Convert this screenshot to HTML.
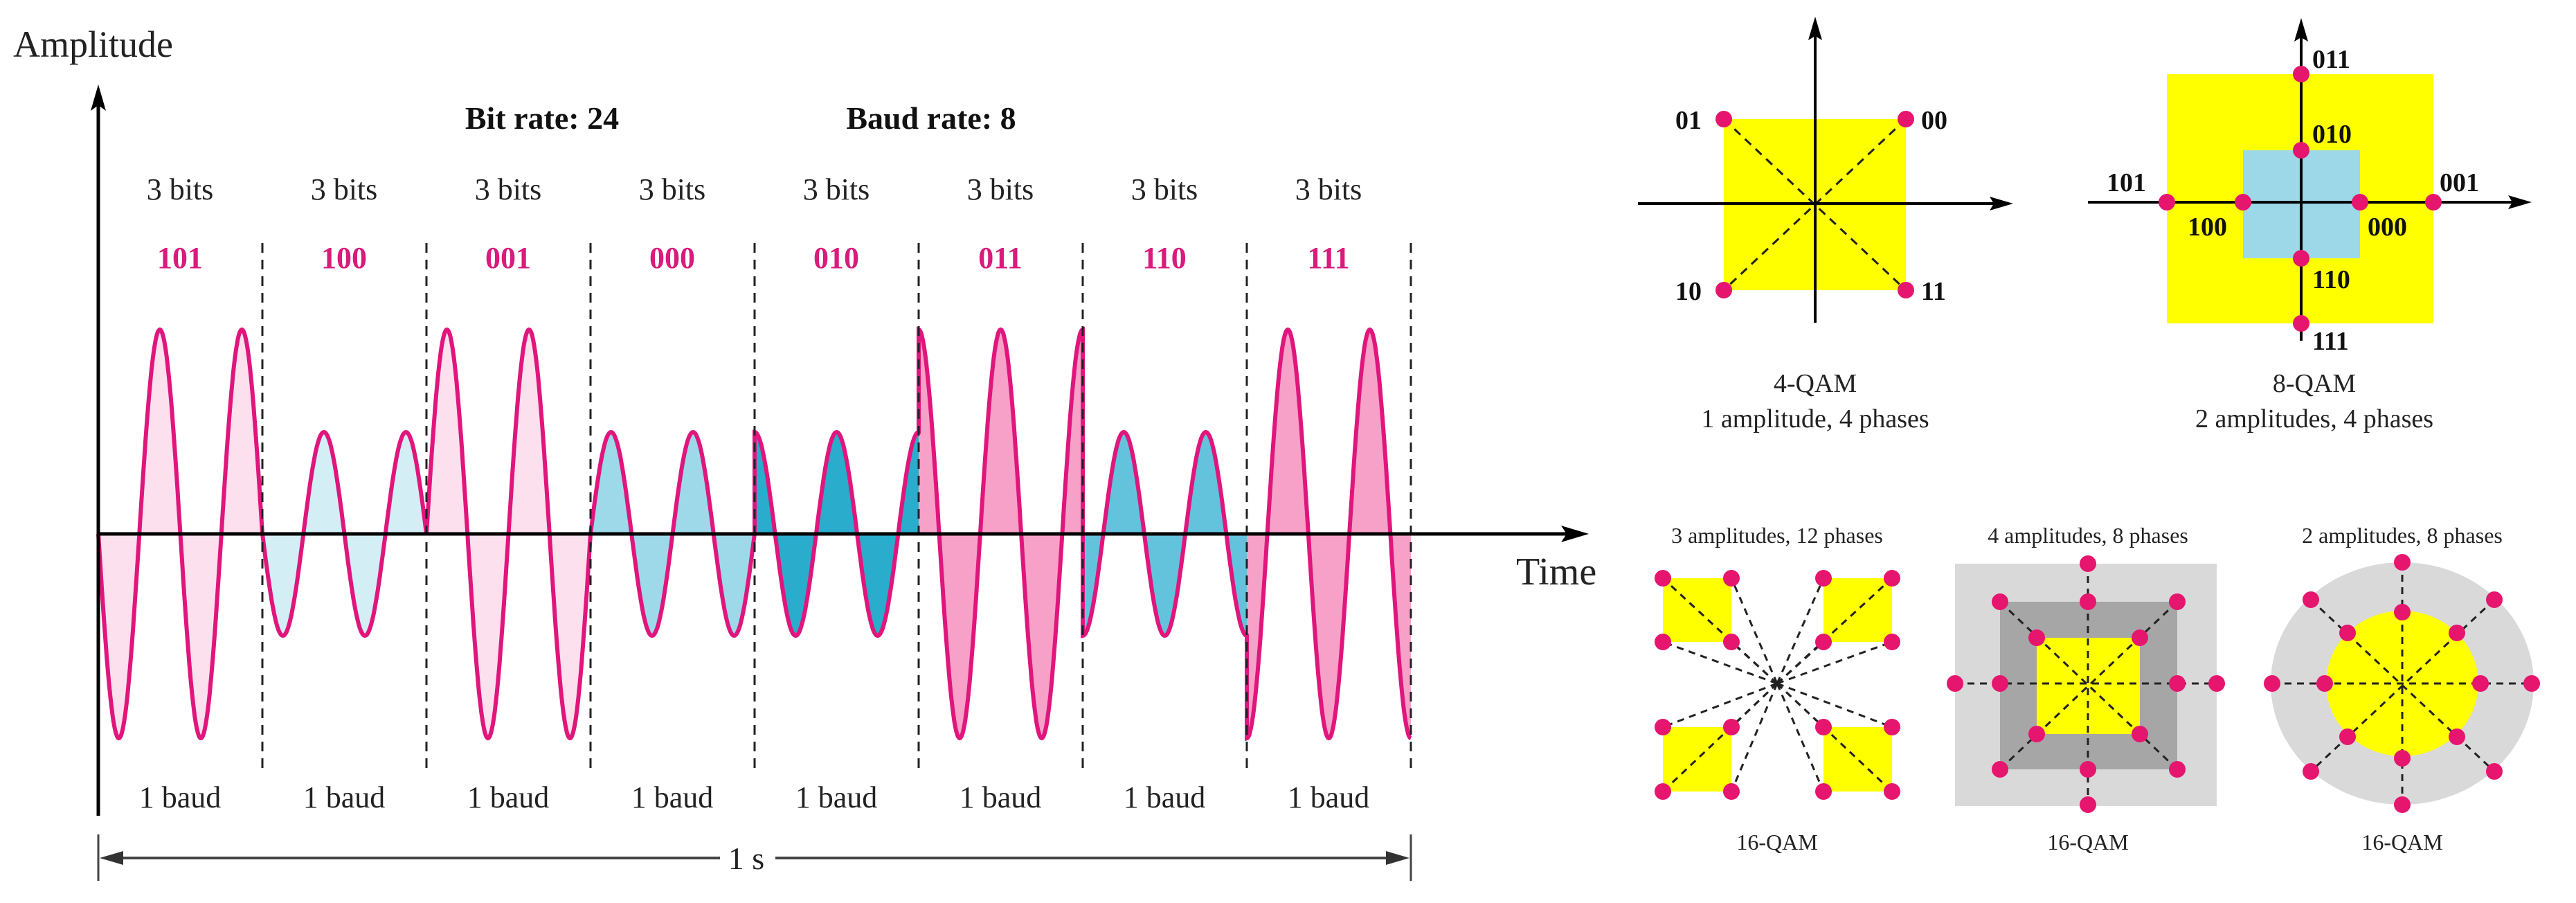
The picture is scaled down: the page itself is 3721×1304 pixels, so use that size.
<!DOCTYPE html>
<html><head><meta charset="utf-8">
<style>
html,body{margin:0;padding:0;background:#fff;}
svg{display:block;}
text{font-family:"Liberation Serif",serif;}
</style></head>
<body>
<svg id="s" width="3721" height="1304" viewBox="0 0 3721 1304" xmlns="http://www.w3.org/2000/svg">
<g id="fills"></g>
<path id="wave" fill="none" stroke="#e0167c" stroke-width="6"/>
<g stroke="#222" stroke-width="3" stroke-dasharray="14,10">
<line x1="379" y1="351" x2="379" y2="1110"/><line x1="616" y1="351" x2="616" y2="1110"/>
<line x1="853" y1="351" x2="853" y2="1110"/><line x1="1090" y1="351" x2="1090" y2="1110"/>
<line x1="1327" y1="351" x2="1327" y2="1110"/><line x1="1564" y1="351" x2="1564" y2="1110"/>
<line x1="1801" y1="351" x2="1801" y2="1110"/><line x1="2038" y1="351" x2="2038" y2="1110"/>
</g>
<line x1="142" y1="150" x2="142" y2="1178" stroke="#000" stroke-width="5"/>
<polygon points="142,122 131,160 142,152 153,160" fill="#000"/>
<line x1="142" y1="771" x2="2265" y2="771" stroke="#000" stroke-width="5"/>
<polygon points="2295,771 2255,759 2263,771 2255,783" fill="#000"/>
<text x="19" y="82" font-size="54" fill="#222">Amplitude</text>
<text x="2190" y="844" font-size="56" fill="#222">Time</text>
<text x="783" y="186" font-size="46" font-weight="bold" text-anchor="middle" fill="#111">Bit rate: 24</text>
<text x="1345" y="186" font-size="46" font-weight="bold" text-anchor="middle" fill="#111">Baud rate: 8</text>
<g font-size="44" text-anchor="middle" fill="#222">
<text x="260" y="288">3 bits</text><text x="497" y="288">3 bits</text><text x="734" y="288">3 bits</text><text x="971" y="288">3 bits</text>
<text x="1208" y="288">3 bits</text><text x="1445" y="288">3 bits</text><text x="1682" y="288">3 bits</text><text x="1919" y="288">3 bits</text>
</g>
<g font-size="44" font-weight="bold" text-anchor="middle" fill="#d81b7c">
<text x="260" y="387">101</text><text x="497" y="387">100</text><text x="734" y="387">001</text><text x="971" y="387">000</text>
<text x="1208" y="387">010</text><text x="1445" y="387">011</text><text x="1682" y="387">110</text><text x="1919" y="387">111</text>
</g>
<g font-size="44" text-anchor="middle" fill="#222">
<text x="260" y="1166">1 baud</text><text x="497" y="1166">1 baud</text><text x="734" y="1166">1 baud</text><text x="971" y="1166">1 baud</text>
<text x="1208" y="1166">1 baud</text><text x="1445" y="1166">1 baud</text><text x="1682" y="1166">1 baud</text><text x="1919" y="1166">1 baud</text>
</g>
<line x1="142" y1="1205" x2="142" y2="1272" stroke="#444" stroke-width="3"/>
<line x1="2038" y1="1205" x2="2038" y2="1272" stroke="#444" stroke-width="3"/>
<line x1="150" y1="1239" x2="1040" y2="1239" stroke="#444" stroke-width="4"/>
<line x1="1120" y1="1239" x2="2030" y2="1239" stroke="#444" stroke-width="4"/>
<polygon points="144,1239 178,1229 178,1249" fill="#333"/>
<polygon points="2036,1239 2002,1229 2002,1249" fill="#333"/>
<text x="1078" y="1255" font-size="46" text-anchor="middle" fill="#222">1 s</text>

<rect x="2490" y="172" width="263" height="247" fill="#ffff00"/>
<g stroke="#222" stroke-width="3" stroke-dasharray="12,9">
<line x1="2490" y1="172" x2="2753" y2="419"/><line x1="2753" y1="172" x2="2490" y2="419"/>
</g>
<line x1="2622" y1="45" x2="2622" y2="466" stroke="#000" stroke-width="4"/>
<polygon points="2622,24 2612,58 2622,52 2632,58" fill="#000"/>
<line x1="2366" y1="294" x2="2885" y2="294" stroke="#000" stroke-width="4"/>
<polygon points="2908,294 2874,284 2880,294 2874,304" fill="#000"/>
<g fill="#e6156e"><circle cx="2490" cy="172" r="12"/><circle cx="2753" cy="172" r="12"/><circle cx="2490" cy="419" r="12"/><circle cx="2753" cy="419" r="12"/></g>
<g font-size="38" font-weight="bold" fill="#111">
<text x="2420" y="186">01</text><text x="2775" y="186">00</text><text x="2420" y="433">10</text><text x="2775" y="433">11</text>
</g>
<text x="2622" y="566" font-size="38" text-anchor="middle" fill="#222">4-QAM</text>
<text x="2622" y="617" font-size="38" text-anchor="middle" fill="#222">1 amplitude, 4 phases</text>

<rect x="3130" y="107" width="385" height="360" fill="#ffff00"/>
<rect x="3240" y="217" width="169" height="156" fill="#9dd8e8"/>
<line x1="3324" y1="45" x2="3324" y2="492" stroke="#000" stroke-width="4"/>
<polygon points="3324,26 3314,60 3324,54 3334,60" fill="#000"/>
<line x1="3016" y1="292" x2="3635" y2="292" stroke="#000" stroke-width="4"/>
<polygon points="3657,292 3623,282 3629,292 3623,302" fill="#000"/>
<g fill="#e6156e">
<circle cx="3324" cy="107" r="12"/><circle cx="3324" cy="217" r="12"/><circle cx="3324" cy="373" r="12"/><circle cx="3324" cy="467" r="12"/>
<circle cx="3130" cy="292" r="12"/><circle cx="3240" cy="292" r="12"/><circle cx="3409" cy="292" r="12"/><circle cx="3515" cy="292" r="12"/>
</g>
<g font-size="38" font-weight="bold" fill="#111">
<text x="3340" y="98">011</text><text x="3340" y="206">010</text><text x="3043" y="276">101</text><text x="3524" y="276">001</text>
<text x="3160" y="340">100</text><text x="3420" y="340">000</text><text x="3340" y="416">110</text><text x="3340" y="505">111</text>
</g>
<text x="3343" y="566" font-size="38" text-anchor="middle" fill="#222">8-QAM</text>
<text x="3343" y="617" font-size="38" text-anchor="middle" fill="#222">2 amplitudes, 4 phases</text>

<g font-size="32" text-anchor="middle" fill="#222">
<text x="2567" y="784">3 amplitudes, 12 phases</text>
<text x="3016" y="784">4 amplitudes, 8 phases</text>
<text x="3470" y="784">2 amplitudes, 8 phases</text>
<text x="2567" y="1227">16-QAM</text>
<text x="3016" y="1227">16-QAM</text>
<text x="3470" y="1227">16-QAM</text>
</g>

<g fill="#ffff00">
<rect x="2402" y="835" width="99" height="92"/><rect x="2634" y="835" width="99" height="92"/>
<rect x="2402" y="1050" width="99" height="93"/><rect x="2634" y="1050" width="99" height="93"/>
</g>
<g stroke="#222" stroke-width="3" stroke-dasharray="10,8" id="p1lines"></g>
<g fill="#e6156e" id="p1dots"></g>

<rect x="2824" y="814" width="378" height="350" fill="#d9d9d9"/>
<rect x="2889" y="869" width="256" height="242" fill="#a6a6a6"/>
<rect x="2942" y="921" width="149" height="139" fill="#ffff00"/>
<g stroke="#222" stroke-width="3" stroke-dasharray="10,8">
<line x1="2824" y1="987" x2="3202" y2="987"/><line x1="3016" y1="814" x2="3016" y2="1162"/>
<line x1="2889" y1="869" x2="3145" y2="1111"/><line x1="3145" y1="869" x2="2889" y2="1111"/>
</g>
<g fill="#e6156e">
<circle cx="3016" cy="814" r="12"/><circle cx="3016" cy="869" r="12"/><circle cx="3016" cy="1111" r="12"/><circle cx="3016" cy="1162" r="12"/>
<circle cx="2824" cy="987" r="12"/><circle cx="2889" cy="987" r="12"/><circle cx="3145" cy="987" r="12"/><circle cx="3202" cy="987" r="12"/>
<circle cx="2889" cy="869" r="12"/><circle cx="3145" cy="869" r="12"/><circle cx="2889" cy="1111" r="12"/><circle cx="3145" cy="1111" r="12"/>
<circle cx="2942" cy="921" r="12"/><circle cx="3091" cy="921" r="12"/><circle cx="2942" cy="1060" r="12"/><circle cx="3091" cy="1060" r="12"/>
</g>

<ellipse cx="3470" cy="987" rx="190" ry="175" fill="#d9d9d9"/>
<ellipse cx="3470" cy="987" rx="110" ry="105" fill="#ffff00"/>
<g stroke="#222" stroke-width="3" stroke-dasharray="10,8">
<line x1="3282" y1="987" x2="3657" y2="987"/><line x1="3470" y1="812" x2="3470" y2="1162"/>
<line x1="3338" y1="866" x2="3603" y2="1114"/><line x1="3603" y1="866" x2="3338" y2="1114"/>
</g>
<g fill="#e6156e">
<circle cx="3282" cy="987" r="12"/><circle cx="3657" cy="987" r="12"/><circle cx="3470" cy="812" r="12"/><circle cx="3470" cy="1162" r="12"/>
<circle cx="3338" cy="866" r="12"/><circle cx="3603" cy="866" r="12"/><circle cx="3338" cy="1114" r="12"/><circle cx="3603" cy="1114" r="12"/>
<circle cx="3358" cy="987" r="12"/><circle cx="3583" cy="987" r="12"/><circle cx="3470" cy="884" r="12"/><circle cx="3470" cy="1095" r="12"/>
<circle cx="3391" cy="914" r="12"/><circle cx="3549" cy="914" r="12"/><circle cx="3391" cy="1064" r="12"/><circle cx="3549" cy="1064" r="12"/>
</g>
</svg>
<script>
(function(){
var NS="http://www.w3.org/2000/svg";
var segs=[["s",-1,295,"#fde0ee"],["s",-1,147,"#d3eef5"],["s",1,295,"#fde0ee"],["s",1,147,"#9ed9ea"],
["c",1,147,"#2aaccc"],["c",1,295,"#f7a1c9"],["c",-1,147,"#63c3dc"],["c",-1,295,"#f7a1c9"]];
var T=118.5,W=237,Y0=771,fills=document.getElementById("fills"),d="";
segs.forEach(function(s,i){
 var x0=142+W*i,pts=[];
 for(var k=0;k<=240;k++){var t=W*k/240;var a=2*Math.PI*t/T;
  var f=(s[0]=="s"?Math.sin(a):Math.cos(a))*s[1];
  pts.push((x0+t).toFixed(1)+","+(Y0-s[2]*f).toFixed(1));}
 var p=document.createElementNS(NS,"polygon");
 p.setAttribute("points",x0+","+Y0+" "+pts.join(" ")+" "+(x0+W)+","+Y0);
 p.setAttribute("fill",s[3]);fills.appendChild(p);
 d+=(i==0?"M":"L")+pts.join(" L");
});
document.getElementById("wave").setAttribute("d",d);
var cx=2567,cy=987,dots=[[2402,835],[2501,835],[2402,927],[2501,927],[2634,835],[2733,835],[2634,927],[2733,927],
[2402,1050],[2501,1050],[2402,1143],[2501,1143],[2634,1050],[2733,1050],[2634,1143],[2733,1143]];
var L=document.getElementById("p1lines"),D=document.getElementById("p1dots");
dots.forEach(function(p){
 var l=document.createElementNS(NS,"line");l.setAttribute("x1",cx);l.setAttribute("y1",cy);l.setAttribute("x2",p[0]);l.setAttribute("y2",p[1]);L.appendChild(l);
 var c=document.createElementNS(NS,"circle");c.setAttribute("cx",p[0]);c.setAttribute("cy",p[1]);c.setAttribute("r",12);D.appendChild(c);
});
})();
</script>
</body></html>
